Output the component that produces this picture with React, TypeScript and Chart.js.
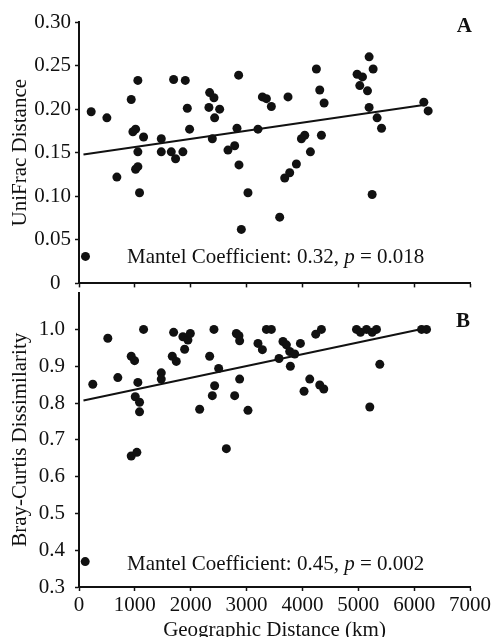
import React, { useEffect, useRef } from "react";
import { Chart, registerables } from "chart.js";

Chart.register(...registerables);

const FONT = '"Liberation Serif", "Times New Roman", serif';
const INK = "#111111";

// Panel A: UniFrac distance vs geographic distance (km)
const distanceA = [
  116, 218, 499, 678, 935, 1054, 965, 1013, 1156, 1054, 1013, 1054, 1084, 1473, 1473, 1652,
  1729, 1694, 1903, 1939, 1980, 1860, 2339, 2416, 2326, 2518, 2428, 2387, 2667, 2787, 2828,
  2864, 2858, 3025, 2906, 3204, 3283, 3355, 3444, 3742, 3593, 3683, 3772, 3892, 3982, 4041,
  4143, 4340, 4250, 4310, 4388, 4979, 5075, 5027, 5165, 5194, 5266, 5194, 5337, 5416, 5248,
  6174, 6251,
];
const unifrac = [
  0.031, 0.197, 0.19, 0.122, 0.211, 0.233, 0.174, 0.177, 0.168, 0.151, 0.131, 0.134, 0.104,
  0.166, 0.151, 0.151, 0.143, 0.234, 0.233, 0.201, 0.177, 0.151, 0.219, 0.213, 0.202, 0.2,
  0.19, 0.166, 0.153, 0.158, 0.178, 0.136, 0.239, 0.104, 0.062, 0.177, 0.214, 0.212, 0.203,
  0.214, 0.076, 0.121, 0.127, 0.137, 0.166, 0.17, 0.151, 0.17, 0.246, 0.222, 0.207, 0.24,
  0.237, 0.227, 0.221, 0.26, 0.246, 0.202, 0.19, 0.178, 0.102, 0.208, 0.198,
];
const trendAx = [80, 6200];
const trendAy = [0.148, 0.205];

// Panel B: Bray-Curtis dissimilarity vs geographic distance (km)
const distanceB = [
  111, 247, 516, 695, 935, 995, 1156, 1054, 1007, 1084, 1084, 935, 1036, 1473, 1473, 1670,
  1742, 1694, 1860, 1950, 1993, 1891, 2416, 2339, 2500, 2428, 2387, 2160, 2638, 2787, 2876,
  2817, 2864, 2876, 3025, 3204, 3283, 3355, 3444, 3581, 3652, 3713, 3772, 3862, 3964, 3784,
  4029, 4131, 4310, 4382, 4238, 4340, 4968, 5039, 5147, 5248, 5326, 5385, 5206, 6133, 6222,
];
const brayCurtis = [
  0.369, 0.851, 0.976, 0.869, 0.927, 0.915, 1.0, 0.856, 0.817, 0.802, 0.776, 0.656, 0.666,
  0.882, 0.865, 0.927, 0.913, 0.992, 0.98, 0.971, 0.989, 0.946, 1.0, 0.927, 0.894, 0.847,
  0.82, 0.783, 0.676, 0.82, 0.865, 0.989, 0.983, 0.969, 0.78, 0.962, 0.945, 1.0, 1.0, 0.921,
  0.967, 0.958, 0.94, 0.933, 0.962, 0.9, 0.832, 0.865, 0.849, 0.838, 0.987, 1.0, 1.0, 0.992,
  1.0, 0.992, 1.0, 0.905, 0.789, 1.0, 1.0,
];
const trendBx = [80, 6200];
const trendBy = [0.807, 1.003];

// Axis ticks
const xTicks = [0, 1000, 2000, 3000, 4000, 5000, 6000, 7000];
const yTicksA = [0, 0.05, 0.1, 0.15, 0.2, 0.25, 0.3];
const yTicksB = [0.3, 0.4, 0.5, 0.6, 0.7, 0.8, 0.9, 1.0];

// Texts
const xTitle = "Geographic Distance (km)";
const yTitleA = "UniFrac Distance";
const yTitleB = "Bray-Curtis Dissimilarity";
const mantelA = [
  { text: "Mantel Coefficient: 0.32, ", italic: false },
  { text: "p", italic: true },
  { text: " = 0.018", italic: false },
];
const mantelB = [
  { text: "Mantel Coefficient: 0.45, ", italic: false },
  { text: "p", italic: true },
  { text: " = 0.002", italic: false },
];

const pts = (xs: number[], ys: number[]) => xs.map((x, i) => ({ x, y: ys[i] }));

function makeAnnot(
  id: string,
  parts: { text: string; italic: boolean }[],
  offsetY: number,
  letter: string,
  letterDx: number,
  letterY: number
) {
  return {
    id,
    afterDraw(chart: any) {
      const { ctx, chartArea } = chart;
      ctx.save();
      ctx.fillStyle = INK;
      ctx.textBaseline = "alphabetic";
      ctx.textAlign = "left";
      let x = chartArea.left + 48;
      const y = chartArea.bottom - offsetY;
      for (const p of parts) {
        ctx.font = `${p.italic ? "italic " : ""}21px ${FONT}`;
        ctx.fillText(p.text, x, y);
        x += ctx.measureText(p.text).width;
      }
      ctx.font = `bold 21px ${FONT}`;
      ctx.textAlign = "right";
      ctx.fillText(letter, chartArea.right + letterDx, chartArea.top + letterY);
      ctx.restore();
    },
  };
}

const tickFont = { family: FONT, size: 21 };

function axisCommon(tickLength: number) {
  return {
    grid: {
      drawOnChartArea: false,
      drawTicks: true,
      tickLength,
      tickColor: INK,
      tickWidth: 1.5,
      color: INK,
    },
    border: { display: true, color: INK, width: 2 },
  };
}

export default function App() {
  const refA = useRef<HTMLCanvasElement | null>(null);
  const refB = useRef<HTMLCanvasElement | null>(null);

  useEffect(() => {
    const scatterStyle = {
      backgroundColor: INK,
      borderWidth: 0,
      pointRadius: 4.5,
      pointHoverRadius: 4.5,
      showLine: false,
    };
    const lineStyle = {
      borderColor: INK,
      borderWidth: 2,
      pointRadius: 0,
      showLine: true,
      fill: false,
    };

    const chartA = new Chart(refA.current as HTMLCanvasElement, {
      type: "scatter",
      data: {
        datasets: [
          { data: pts(distanceA, unifrac), ...scatterStyle } as any,
          { data: pts(trendAx, trendAy), ...lineStyle } as any,
        ],
      },
      options: {
        animation: false,
        responsive: false,
        events: [],
        layout: { padding: { top: 22, right: 50, left: 0, bottom: 0 } },
        plugins: { legend: { display: false }, tooltip: { enabled: false } },
        scales: {
          x: {
            type: "linear",
            min: 0,
            max: 7000,
            afterBuildTicks: (s: any) => {
              s.ticks = xTicks.map((v) => ({ value: v }));
            },
            afterFit: (s: any) => {
              s.height = 13;
            },
            ticks: { display: false },
            ...axisCommon(4),
          },
          y: {
            type: "linear",
            min: 0,
            max: 0.3,
            afterBuildTicks: (s: any) => {
              s.ticks = yTicksA.map((v) => ({ value: v }));
            },
            afterFit: (s: any) => {
              s.width = 79;
            },
            ticks: {
              font: tickFont,
              color: INK,
              padding: 4,
              callback: (v: any) => (Number(v) === 0 ? "0\u2002" : Number(v).toFixed(2)),
            },
            title: {
              display: true,
              text: yTitleA,
              color: INK,
              font: { family: FONT, size: 21, lineHeight: 1.2 },
              padding: { top: 8, bottom: 0 },
            },
            ...axisCommon(4),
          },
        },
      } as any,
      plugins: [makeAnnot("annotA", mantelA, 20, "A", 2, 10)],
    });

    const chartB = new Chart(refB.current as HTMLCanvasElement, {
      type: "scatter",
      data: {
        datasets: [
          { data: pts(distanceB, brayCurtis), ...scatterStyle } as any,
          { data: pts(trendBx, trendBy), ...lineStyle } as any,
        ],
      },
      options: {
        animation: false,
        responsive: false,
        events: [],
        layout: { padding: { top: 16, right: 50, left: 0, bottom: 0 } },
        plugins: { legend: { display: false }, tooltip: { enabled: false } },
        scales: {
          x: {
            type: "linear",
            min: 0,
            max: 7000,
            afterBuildTicks: (s: any) => {
              s.ticks = xTicks.map((v) => ({ value: v }));
            },
            afterFit: (s: any) => {
              s.height = 50;
            },
            ticks: {
              font: tickFont,
              color: INK,
              padding: 2,
              maxRotation: 0,
              autoSkip: false,
              callback: (v: any) => String(v),
            },
            title: {
              display: true,
              text: xTitle,
              color: INK,
              font: { family: FONT, size: 21, lineHeight: 0.667 },
              padding: 0,
            },
            ...axisCommon(4),
          },
          y: {
            type: "linear",
            min: 0.3,
            max: 1.1,
            afterBuildTicks: (s: any) => {
              s.ticks = yTicksB.map((v) => ({ value: v }));
            },
            afterFit: (s: any) => {
              s.width = 79;
            },
            ticks: {
              font: tickFont,
              color: INK,
              padding: 10,
              callback: (v: any) => Number(v).toFixed(1),
            },
            title: {
              display: true,
              text: yTitleB,
              color: INK,
              font: { family: FONT, size: 21, lineHeight: 1.2 },
              padding: { top: 8, bottom: 0 },
            },
            ...axisCommon(4),
          },
        },
      } as any,
      plugins: [makeAnnot("annotB", mantelB, 17, "B", 0, 34)],
    });

    return () => {
      chartA.destroy();
      chartB.destroy();
    };
  }, []);

  return (
    <div
      style={{
        position: "fixed",
        left: 0,
        top: 0,
        width: 491,
        height: 637,
        overflow: "hidden",
        background: "#ffffff",
      }}
    >
      <canvas
        ref={refA}
        width={520}
        height={300}
        style={{ position: "absolute", left: 0, top: 0, width: 520, height: 300 }}
      />
      <canvas
        ref={refB}
        width={520}
        height={367}
        style={{ position: "absolute", left: 0, top: 270, width: 520, height: 367 }}
      />
    </div>
  );
}
